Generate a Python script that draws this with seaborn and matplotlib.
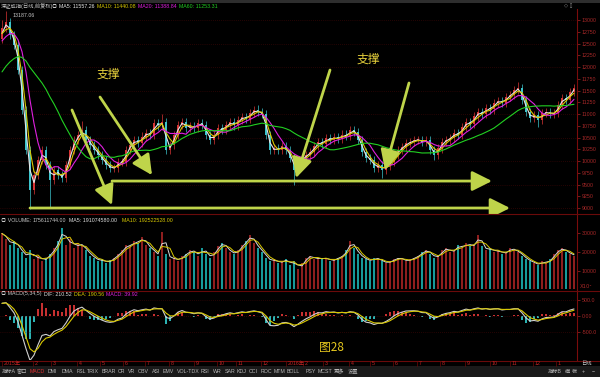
import matplotlib
matplotlib.use('Agg')
import matplotlib.pyplot as plt
from matplotlib.lines import Line2D
from matplotlib.patches import Rectangle
import numpy as np
import pandas as pd
import seaborn as sns

# index closes, one point every ~3.5 trading days
pre_close = [11000, 10900, 11100, 11300, 11200, 11400, 11500, 11700, 11600,
             11900, 12100, 12200, 12400, 12300, 12500, 12700, 12600]
close = [
    12830, 12960, 12680, 12470, 11940, 11080, 10230, 9380, 9700, 10020,
    10230, 9910, 9600, 9810, 9700, 9640, 9910, 10230, 10450, 10550,
    10660, 10450, 10340, 10230, 10130, 10020, 9910, 9850, 9850, 9980,
    9980, 10230, 10340, 10450, 10380, 10520, 10600, 10560, 10800, 10760,
    10830, 10230, 10340, 10550, 10770, 10830, 10700, 10740, 10700, 10810,
    10770, 10550, 10450, 10550, 10700, 10660, 10770, 10820, 10760, 10870,
    10940, 10900, 11020, 11080, 11040, 11000, 10550, 10230, 10270, 10230,
    10320, 10230, 10060, 9810, 9980, 10060, 10130, 10190, 10320, 10400,
    10370, 10490, 10450, 10510, 10470, 10560, 10530, 10660, 10620, 10450,
    10190, 10060, 10020, 9850, 9910, 9810, 9890, 9980, 10130, 10230,
    10300, 10380, 10400, 10450, 10450, 10400, 10450, 10230, 10130, 10270,
    10400, 10450, 10490, 10600, 10560, 10720, 10830, 10790, 10950, 11040,
    11000, 11130, 11100, 11230, 11280, 11240, 11360, 11400, 11510, 11550,
    11300, 11040, 10910, 10980, 10870, 11020, 11040, 11000, 11020, 11190,
    11340, 11300, 11470, 11560,
]
# volume in units of 10^4
volume = [
    30000, 27000, 24000, 26000, 22000, 20000, 17000, 21000, 16000, 18000,
    15000, 17000, 19000, 22000, 26000, 33000, 24000, 27000, 22000, 25000,
    23000, 21000, 18000, 17000, 15000, 16000, 14000, 15500, 17000, 19000,
    21000, 24000, 23000, 26000, 25000, 28000, 24000, 22000, 20000, 18000,
    31000, 19000, 16000, 17000, 15000, 18000, 19000, 21000, 20000, 18000,
    22000, 19000, 17000, 20000, 23000, 25000, 22000, 20000, 19000, 21000,
    24000, 26000, 29000, 25000, 22000, 20000, 17000, 15000, 16000, 14000,
    15000, 16000, 13000, 15000, 11000, 14000, 17000, 18000, 16000, 17000,
    16000, 17000, 15000, 16000, 17000, 18000, 21000, 26000, 22000, 19000,
    17000, 16000, 15000, 17000, 16000, 15000, 14000, 15000, 16000, 17000,
    16000, 15000, 16000, 17000, 18000, 20000, 21000, 19000, 17000, 18000,
    21000, 22000, 20000, 21000, 24000, 22000, 25000, 23000, 24000, 29000,
    23000, 21000, 22000, 20000, 21000, 19000, 20000, 22000, 21000, 20000,
    18000, 16000, 15000, 14000, 13000, 15000, 14000, 16000, 19000, 21000,
    22000, 20000, 19000, 18000,
]
# notable wick extremes: index -> price
wick_high = {0: 13000, 1: 13187, 20: 10850, 40: 11000, 64: 11200, 129: 11680, 143: 11640}
wick_low = {7: 8969, 12: 9020, 73: 9490, 95: 9640, 108: 10020, 134: 10720}

month_labels = ['2015年', '2', '3', '4', '5', '6', '7', '8', '9', '10', '11', '12',
                '2016年', '2', '3', '4', '5', '6', '7', '8', '9', '10', '11', '12', '1']
month_pos = [0, 7.75, 12.25, 18.75, 24.5, 30.25, 35.75, 41.75, 48, 53.75, 58.5, 64.75,
             71, 75.25, 80.25, 86.75, 92, 97.75, 103.75, 109.5, 115.75, 122, 127, 132.75, 138.5]

# annotation arrows (tail, head) in (index, price)
arrows = [((17.5, 11085), (27.5, 9063)),
          ((24.5, 11361), (37.5, 9700)),
          ((82, 11936), (73.5, 9638)),
          ((101.75, 11660), (95.75, 9808)),
          ((27.5, 9574), (122.5, 9574)),
          ((7, 9000), (127, 9000))]
labels_zc = [(26.5, 11850), (91.5, 12170)]

tabs = ['指标A', '窗口', 'MACD', 'DMI', 'DMA', 'FSL', 'TRIX', 'BRAR', 'CR', 'VR', 'OBV',
        'ASI', 'EMV', 'VOL-TDX', 'RSI', 'WR', 'SAR', 'KDJ', 'CCI', 'ROC', 'MTM', 'BOLL',
        'PSY', 'MCST', '更多', '设置']
tab_x = [2, 17, 30, 48, 62, 77, 87, 102, 118, 128, 138, 152, 163, 177, 201, 213, 225,
         237, 249, 261, 274, 287, 306, 318, 334, 348]

sns.set_theme(style='dark')
plt.rcParams['font.family'] = ['Liberation Sans', 'Noto Sans CJK SC', 'DejaVu Sans']
plt.rcParams['axes.unicode_minus'] = False

W, H = 600, 377
fx = lambda px: px / W
fy = lambda py: 1 - py / H
FS = 3.8

n = len(close)
idx = np.arange(n)
full = pd.Series(pre_close + close, dtype=float)
npre = len(pre_close)
opens = np.array([pre_close[-1]] + close[:-1], dtype=float)
closes = np.array(close, dtype=float)
wick = 90
highs = np.maximum(opens, closes) + wick
lows = np.minimum(opens, closes) - wick
for k, v in wick_high.items():
    highs[k] = v
for k, v in wick_low.items():
    lows[k] = v
up = closes >= opens

fig = plt.figure(figsize=(6, 3.77), dpi=100, facecolor='black')
ax_p = fig.add_axes([0, fy(213), fx(577), (213 - 9) / H])
ax_v = fig.add_axes([0, fy(290), fx(577), (290 - 214) / H])
ax_m = fig.add_axes([0, fy(360), fx(577), (360 - 291) / H])

red, cyan = '#d83434', '#3cc4cc'
for ax in (ax_p, ax_v, ax_m):
    ax.set_facecolor('black')
    ax.set_xlim(-0.5, 143.75)
    ax.set_xticks([])
    ax.grid(False)
    for s in ax.spines.values():
        s.set_visible(False)
    ax.spines['right'].set_visible(True)
    ax.spines['right'].set_color('#7a0c0c')
    ax.spines['right'].set_linewidth(0.8)
    ax.yaxis.tick_right()
    ax.tick_params(axis='y', colors='#a82828', labelsize=FS, length=2, width=0.5, pad=1.5)

# ---- price panel
for lvl in range(9000, 13001, 500):
    ax_p.axhline(lvl, color='#4a0808', lw=0.5, ls=(0, (1, 2)), zorder=0)
cols = np.where(up, red, cyan)
ax_p.vlines(idx, lows, highs, colors=cols, lw=0.5, zorder=2)
ax_p.bar(idx, np.maximum(np.abs(closes - opens), 15), bottom=np.minimum(opens, closes),
         width=0.5, color=cols, linewidth=0, zorder=3)
ma_cols = {2: '#e6e6e6', 3: '#d8c800', 6: '#e020e0', 17: '#22d022'}
for w, c in ma_cols.items():
    ma = full.rolling(w, min_periods=1).mean().values[npre:]
    sns.lineplot(x=idx, y=ma, ax=ax_p, color=c, lw=0.8, zorder=4)
ax_p.set_ylim(8894, 13234)
ax_p.set_yticks(range(9000, 13001, 250))
ax_p.set_yticklabels([str(v) for v in range(9000, 13001, 250)])
ax_p.set_ylabel('')

acol = '#bfd44a'
for (t, h) in arrows:
    ax_p.annotate('', xy=h, xytext=t, zorder=6,
                  arrowprops=dict(arrowstyle='-|>,head_length=1.1,head_width=0.55',
                                  color=acol, lw=2.0, mutation_scale=11,
                                  shrinkA=0, shrinkB=0))
for (x, y) in labels_zc:
    ax_p.text(x, y, '支撑', color='#e8d23c', fontsize=8.5, ha='center', va='center',
              family=['Noto Sans CJK SC'], zorder=6)
ax_p.text(2.7, 13100, '13187.06', color='#c8c8c8', fontsize=FS, va='center', zorder=5)

# ---- volume panel
vol = np.array(volume, dtype=float)
ax_v.bar(idx, vol, width=0.7, color=np.where(up, '#8e1e1e', '#179a9a'), linewidth=0)
vs = pd.Series(volume, dtype=float)
sns.lineplot(x=idx, y=vs.rolling(2, min_periods=1).mean().values, ax=ax_v, color='#d8d8d8', lw=0.7)
sns.lineplot(x=idx, y=vs.rolling(3, min_periods=1).mean().values, ax=ax_v, color='#d8c800', lw=0.7)
ax_v.set_ylim(-540, 40540)
ax_v.set_yticks([10000, 20000, 30000])
ax_v.set_yticklabels(['10000', '20000', '30000'])
ax_v.set_ylabel('')

# ---- MACD panel
a_fast, a_slow, a_sig = 0.6, 0.186, 0.5
dif_full = full.ewm(alpha=a_fast, adjust=False).mean() - full.ewm(alpha=a_slow, adjust=False).mean()
dea_full = dif_full.ewm(alpha=a_sig, adjust=False).mean()
dif = dif_full.values[npre:]
dea = dea_full.values[npre:]
hist = 2 * (dif - dea)
ax_m.bar(idx, hist, width=0.7, color=np.where(hist >= 0, '#c83030', '#2cb4b4'), linewidth=0)
ax_m.axhline(0, color='#5a0808', lw=0.5, ls=(0, (1, 2)))
for lvl in (500, -500):
    ax_m.axhline(lvl, color='#4a0808', lw=0.5, ls=(0, (1, 2)))
sns.lineplot(x=idx, y=dif, ax=ax_m, color='#d0d0d0', lw=0.8)
sns.lineplot(x=idx, y=dea, ax=ax_m, color='#d8c800', lw=0.8)
ax_m.set_ylim(-1400, 781)
ax_m.set_yticks([500, 0, -500])
ax_m.set_yticklabels(['500.0', '0.00', '-500.0'])
ax_m.set_ylabel('')

# ---- separators
for py in (213.5, 290.5, 360.5):
    fig.add_artist(Line2D([0, fx(600)], [fy(py), fy(py)], color='#6a0a0a', lw=0.8))
fig.add_artist(Rectangle((0, fy(2.5)), 1, 2.5 / H, transform=fig.transFigure,
                         facecolor='#2e2e2e', edgecolor='none'))

# ---- panel titles
def row(items, py):
    for px, txt, c in items:
        fig.text(fx(px), fy(py), txt, color=c, fontsize=FS, va='center', ha='left')

row([(1, '深证成指(日线,前复权)', '#c8c8c8'), (52, '◎', '#c8c8c8'),
     (59, 'MA5: 11557.26', '#e8e8e8'), (97, 'MA10: 11440.08', '#d8c800'),
     (138, 'MA20: 11388.84', '#e020e0'), (179, 'MA60: 11253.31', '#22d022')], 6)
row([(1, '◎ VOLUME:', '#c8c8c8'), (33, '175611744.00', '#c8c8c8'),
     (69, 'MA5: 191074580.00', '#e0e0e0'), (122, 'MA10: 192522528.00', '#d8c800')], 221)
row([(1, '◎ MACD(5,34,5)', '#c8c8c8'), (44, 'DIF: 210.52', '#e0e0e0'),
     (74, 'DEA: 190.56', '#d8c800'), (106, 'MACD: 39.92', '#e020e0')], 294)
fig.text(fx(564), fy(6), '◇ ▯', color='#9a9a9a', fontsize=FS, va='center',
         family=['DejaVu Sans'])
fig.text(fx(580), fy(287), 'X10⁴', color='#a82828', fontsize=FS, va='center',
         family=['DejaVu Sans'])

# ---- date strip
for lab, pos in zip(month_labels, month_pos):
    xf = fx(2 + 4 * pos)
    fig.add_artist(Line2D([xf, xf], [fy(361), fy(366)], color='#6a0a0a', lw=0.5))
    fig.text(xf + fx(1.5), fy(363.5), lab, color='#c02424', fontsize=FS, va='center')
fig.text(fx(581), fy(363.5), '日线', color='#c8c8c8', fontsize=FS, va='center')

# ---- bottom tab bar
fig.add_artist(Rectangle((0, 0), 1, 11 / H, transform=fig.transFigure,
                         facecolor='#1a1a1a', edgecolor='none'))
for px, t in zip(tab_x, tabs):
    fig.text(fx(px), fy(371.5), t, color='#e03030' if t == 'MACD' else '#b8b8b8',
             fontsize=FS, va='center')
for px, t in [(548, '指标B'), (565, '模'), (572, '板'), (582, '+'), (592, '−')]:
    fig.text(fx(px), fy(371.5), t, color='#b8b8b8', fontsize=FS, va='center')

fig.text(fx(331), fy(347), '图28', color='#e6c81e', fontsize=8.5, ha='center', va='center',
         family=['Noto Sans CJK SC'])

fig.savefig('out.png', dpi=100, facecolor='black')
